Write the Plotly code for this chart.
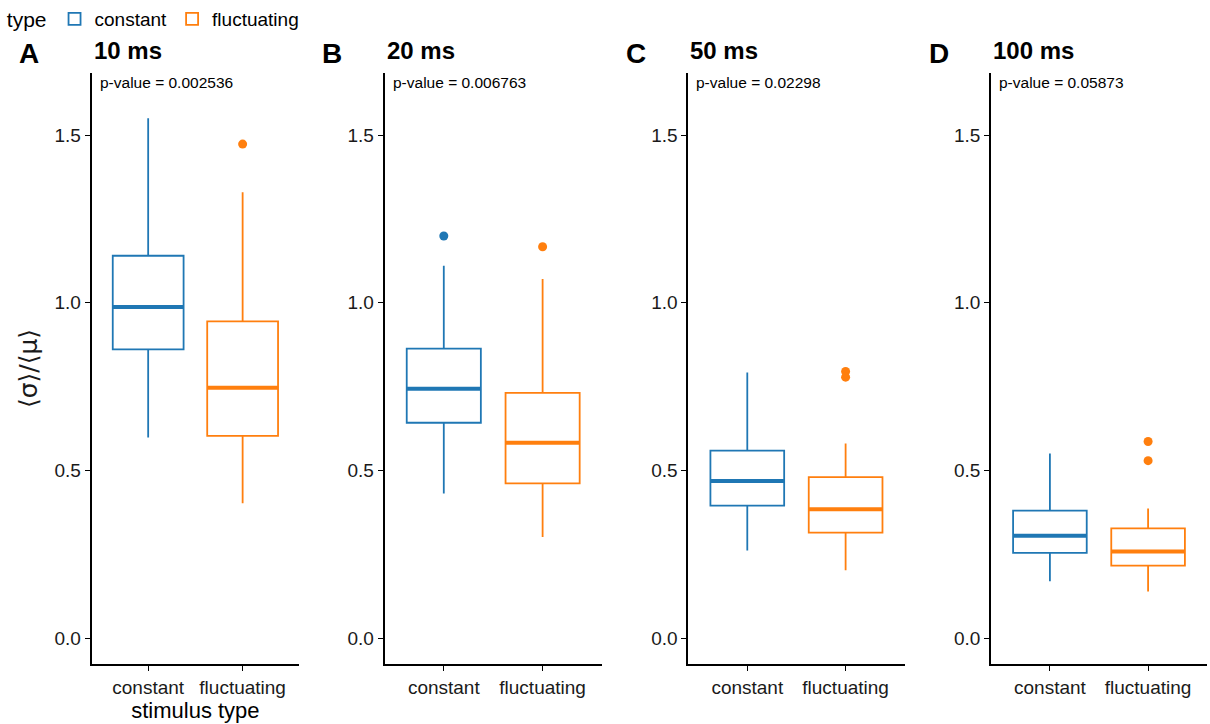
import plotly.graph_objects as go

# Coefficient of variation by stimulus type, four window lengths
windows = ["10 ms", "20 ms", "50 ms", "100 ms"]
panel_labels = ["A", "B", "C", "D"]
p_values = ["0.002536", "0.006763", "0.02298", "0.05873"]
categories = ["constant", "fluctuating"]

# Box statistics per window: [constant, fluctuating]
lower_whisker = [[0.598, 0.402], [0.431, 0.301], [0.261, 0.202], [0.169, 0.139]]
q1_vals       = [[0.861, 0.603], [0.642, 0.461], [0.395, 0.314], [0.254, 0.216]]
median_vals   = [[0.987, 0.746], [0.743, 0.582], [0.468, 0.384], [0.305, 0.258]]
q3_vals       = [[1.140, 0.944], [0.863, 0.731], [0.559, 0.480], [0.380, 0.327]]
upper_whisker = [[1.550, 1.329], [1.110, 1.071], [0.792, 0.580], [0.550, 0.386]]
outliers = [
    [[], [1.473]],
    [[1.199], [1.167]],
    [[], [0.795, 0.778]],
    [[], [0.586, 0.529]],
]

colors = ["#1F77B4", "#FF7F0E"]
W, H = 1210, 724
FONT = "Liberation Sans, Arial, sans-serif"
BOX_W = 0.75

# panel extents in pixels
x_px = [(91.5, 299.3), (384.5, 601.9), (688.3, 904.6), (991.0, 1207.0)]
y_top, y_bot = 73, 664
y_domain = [(H - y_bot) / H, (H - y_top) / H]

fig = go.Figure()

for p in range(4):
    ax = "" if p == 0 else str(p + 1)
    xref, yref = "x" + ax, "y" + ax
    for c in range(2):
        xc = c + 1
        fig.add_trace(go.Box(
            x=[xc], q1=[q1_vals[p][c]], median=[median_vals[p][c]], q3=[q3_vals[p][c]],
            lowerfence=[lower_whisker[p][c]], upperfence=[upper_whisker[p][c]],
            width=BOX_W, whiskerwidth=0, boxpoints=False,
            fillcolor="white", line=dict(color=colors[c], width=1.8),
            name=categories[c], legendgroup=categories[c], showlegend=(p == 0),
            xaxis=xref, yaxis=yref, hoverinfo="skip",
        ))
        # thicker median bar
        fig.add_trace(go.Scatter(
            x=[xc - BOX_W / 2, xc + BOX_W / 2], y=[median_vals[p][c]] * 2,
            mode="lines", line=dict(color=colors[c], width=4),
            showlegend=False, xaxis=xref, yaxis=yref, hoverinfo="skip",
        ))
        if outliers[p][c]:
            fig.add_trace(go.Scatter(
                x=[xc] * len(outliers[p][c]), y=outliers[p][c], mode="markers",
                marker=dict(color=colors[c], size=9),
                showlegend=False, xaxis=xref, yaxis=yref, hoverinfo="skip",
            ))

    x0, x1 = x_px[p]
    axis_common = dict(showline=True, linecolor="black", linewidth=1.7,
                       ticks="outside", ticklen=5, tickwidth=1.3, tickcolor="black",
                       showgrid=False, zeroline=False,
                       tickfont=dict(family=FONT, size=19, color="#1a1a1a"))
    fig.layout["xaxis" + ax] = dict(
        domain=[x0 / W, x1 / W], range=[0.4, 2.6], anchor=yref,
        tickvals=[1, 2], ticktext=categories, **axis_common,
        title=dict(text="stimulus type" if p == 0 else "",
                   font=dict(family=FONT, size=22, color="black"), standoff=2),
    )
    fig.layout["yaxis" + ax] = dict(
        domain=y_domain, range=[-0.0775, 1.685], anchor=xref,
        tickvals=[0, 0.5, 1.0, 1.5], ticktext=["0.0", "0.5", "1.0", "1.5"],
        **axis_common,
        title=dict(text="⟨σ⟩/⟨μ⟩" if p == 0 else "",
                   font=dict(family="DejaVu Sans, sans-serif", size=25, color="#1a1a1a"),
                   standoff=10),
    )

    # panel title
    fig.add_annotation(text="<b>" + windows[p] + "</b>", xref="paper", yref="paper",
                       x=x0 / W, y=1 - 51 / H, xanchor="left", yanchor="middle",
                       showarrow=False, font=dict(family=FONT, size=24, color="black"))
    # panel letter
    fig.add_annotation(text="<b>" + panel_labels[p] + "</b>", xref="paper", yref="paper",
                       x=(29 + p * 303.3) / W, y=1 - 54 / H, xanchor="center", yanchor="middle",
                       showarrow=False, font=dict(family=FONT, size=28, color="black"))
    # p-value
    fig.add_annotation(text="p-value = " + p_values[p], xref=xref + " domain", yref=yref,
                       x=0, xshift=6, y=1.657, xanchor="left", yanchor="middle",
                       showarrow=False, font=dict(family=FONT, size=15.5, color="black"))

fig.update_layout(
    width=W, height=H, margin=dict(l=0, r=0, t=0, b=0),
    plot_bgcolor="white", paper_bgcolor="white", boxmode="overlay",
    legend=dict(orientation="h", x=0.004, y=1.0, xanchor="left", yanchor="top",
                title=dict(text="type", side="left", font=dict(family=FONT, size=21, color="black")),
                font=dict(family=FONT, size=19, color="black"),
                itemwidth=30, tracegroupgap=0, bgcolor="rgba(0,0,0,0)"),
    showlegend=True,
)

fig.write_html("out.html")
